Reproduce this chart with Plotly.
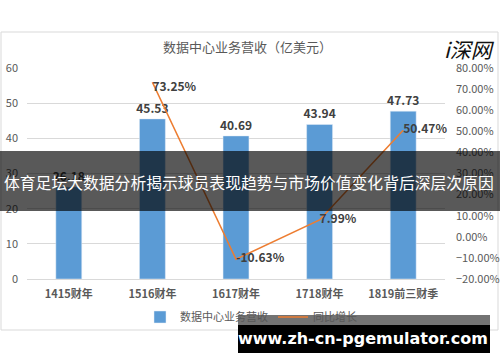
import plotly.graph_objects as go

categories = ["1415财年", "1516财年", "1617财年", "1718财年", "1819前三财季"]
revenue = [26.18, 45.53, 40.69, 43.94, 47.73]
growth = [None, 0.7325, -0.1063, 0.0799, 0.5047]
growth_labels = ["", "73.25%", "-10.63%", "7.99%", "50.47%"]
revenue_ticks = [0, 10, 20, 30, 40, 50, 60]
growth_ticks = [-0.2, -0.1, 0, 0.1, 0.2, 0.3, 0.4, 0.5, 0.6, 0.7, 0.8]

W, H = 500, 362
L, R, T, B = 27, 445, 68, 279
FONT = "Noto Sans CJK SC"
GRAY = "#595959"


def px(x):
    return (x - L) / (R - L)


def py(y):
    return (B - y) / (B - T)


fig = go.Figure()
fig.add_trace(go.Bar(
    x=categories, y=revenue, name="数据中心业务营收",
    marker=dict(color="#5B9BD5"),
    text=[f"{v:.2f}" for v in revenue], textposition="outside", constraintext="none",
    textfont=dict(family=FONT, size=12, color="#404040", weight="bold"),
    cliponaxis=False,
))
fig.add_trace(go.Scatter(
    x=categories, y=growth, name="同比增长", yaxis="y2",
    mode="lines+text", line=dict(color="#ED7D31", width=1.6),
    text=growth_labels,
    textposition=["middle right", "bottom right", "middle right", "middle right", "middle right"],
    textfont=dict(family=FONT, size=12, color="#404040", weight="bold"),
    cliponaxis=False,
))

shapes = [
    dict(type="rect", xref="paper", yref="paper", x0=px(1), x1=px(498), y0=py(330), y1=py(32),
         line=dict(color="#d9d9d9", width=1), fillcolor="rgba(0,0,0,0)", layer="below"),
    dict(type="rect", xref="paper", yref="paper", x0=px(0), x1=px(500), y0=py(211), y1=py(151),
         line=dict(width=0), fillcolor="rgba(0,0,0,0.65)", layer="above"),
    dict(type="rect", xref="paper", yref="paper", x0=px(238), x1=px(490), y0=py(325), y1=py(315),
         line=dict(width=0), fillcolor="rgba(0,0,0,0.55)", layer="above"),
    dict(type="rect", xref="paper", yref="paper", x0=px(238), x1=px(490), y0=py(353), y1=py(325),
         line=dict(width=0), fillcolor="#000000", layer="above"),
]


def note(text, x, y, font):
    return dict(text=text, xref="paper", yref="paper", x=px(x), y=py(y), showarrow=False,
                xanchor="center", yanchor="middle", font=font)


annotations = [
    note("数据中心业务营收（亿美元）", 247, 47, dict(family=FONT, size=13, color=GRAY)),
    note("体育足坛大数据分析揭示球员表现趋势与市场价值变化背后深层次原因", 249, 182,
         dict(family=FONT, size=15.8, color="white")),
    note("www.zh-cn-pgemulator.com", 363, 338,
         dict(family="DejaVu Sans", size=16, color="white", weight="bold")),
    note("<i>i深网</i>", 470, 49, dict(family=FONT, size=21, color="#111111")),
]

fig.update_layout(
    width=W, height=H,
    margin=dict(l=L, r=W - R, t=T, b=H - B, autoexpand=False),
    paper_bgcolor="white", plot_bgcolor="white",
    bargap=0.69,
    showlegend=True,
    legend=dict(orientation="h", xref="container", yref="container", x=0.502, y=(H - 317) / H,
                xanchor="center", yanchor="middle", bgcolor="rgba(0,0,0,0)",
                font=dict(family=FONT, size=11, color=GRAY), itemwidth=30),
    xaxis=dict(showgrid=False, showline=True, linecolor="#d9d9d9", ticks="",
               tickfont=dict(family=FONT, size=11, color=GRAY, weight="bold"),
               ticklabelstandoff=5),
    yaxis=dict(range=[0, 60], tickvals=revenue_ticks, showgrid=True, gridcolor="#d9d9d9",
               zeroline=False, ticks="", ticklabelstandoff=8,
               tickfont=dict(family=FONT, size=11, color=GRAY)),
    yaxis2=dict(range=[-0.2, 0.8], tickvals=growth_ticks, tickformat=".2%", overlaying="y",
                side="right", showgrid=False, zeroline=False, ticks="", ticklabelstandoff=10,
                tickfont=dict(family=FONT, size=11, color=GRAY)),
    shapes=shapes, annotations=annotations,
)

fig.write_html("out.html")
